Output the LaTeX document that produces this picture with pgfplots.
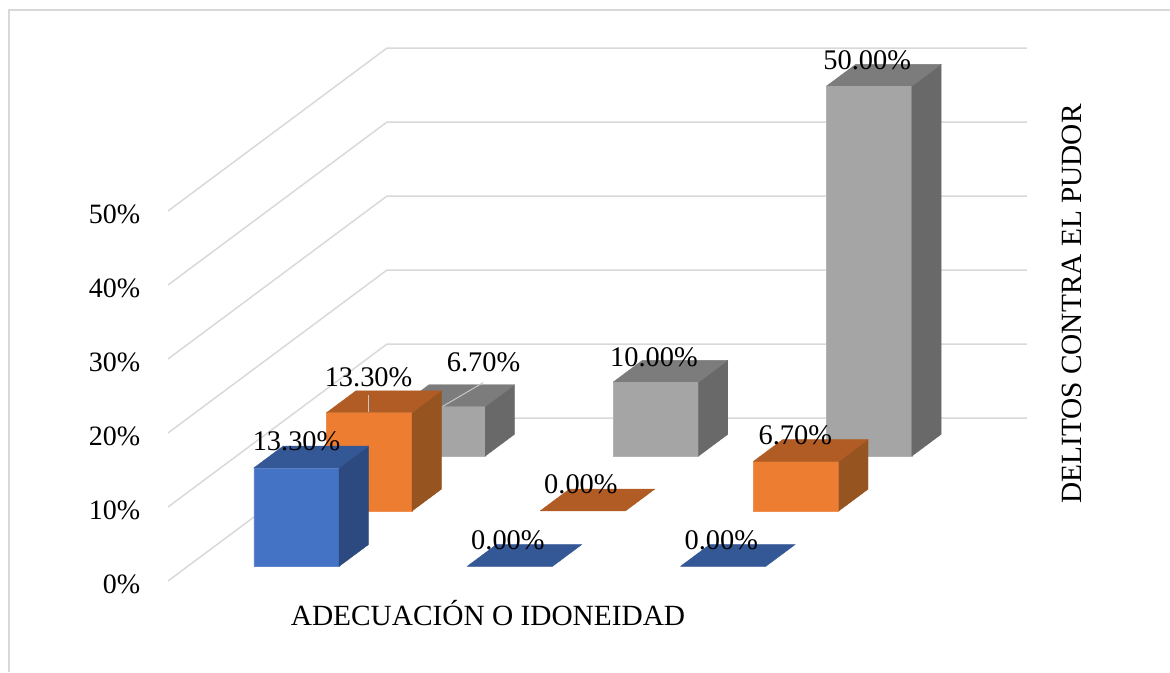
\documentclass[border=0pt]{standalone}
\usepackage{pgfplots}
\pgfplotsset{compat=1.18}
\usepackage{fontspec}
\setmainfont{Liberation Serif}
\definecolor{gridc}{HTML}{D9D9D9}
\definecolor{blueF}{HTML}{4472C4}
\definecolor{blueS}{HTML}{2C4A80}
\definecolor{blueT}{HTML}{345795}
\definecolor{orangeF}{HTML}{ED7D31}
\definecolor{orangeS}{HTML}{955420}
\definecolor{orangeT}{HTML}{B05C24}
\definecolor{grayF}{HTML}{A5A5A5}
\definecolor{grayS}{HTML}{696969}
\definecolor{grayT}{HTML}{7C7C7C}
\newlength{\px}
\setlength{\px}{0.75pt}
% one bar: x, depth, value, colour prefix
\newcommand{\barbox}[4]{%
  \pgfmathsetmacro{\xa}{#1}\pgfmathsetmacro{\xb}{#1+0.4}%
  \pgfmathsetmacro{\ya}{#2}\pgfmathsetmacro{\yb}{#2+0.4}%
  \ifdim #3pt>0pt
  \addplot3[fill=#4F, draw=#4F!85!white, line width=0.5pt] coordinates {(\xa,\ya,0)(\xb,\ya,0)(\xb,\ya,#3)(\xa,\ya,#3)(\xa,\ya,0)};
  \addplot3[fill=#4S, draw=#4S, line width=0.3pt] coordinates {(\xb,\ya,0)(\xb,\yb,0)(\xb,\yb,#3)(\xb,\ya,#3)(\xb,\ya,0)};
  \fi
  \addplot3[fill=#4T, draw=#4T, line width=0.3pt] coordinates {(\xa,\ya,#3)(\xb,\ya,#3)(\xb,\yb,#3)(\xa,\yb,#3)(\xa,\ya,#3)};
}
% data label: x, depth, value, text, shift in px
\newcommand{\barlabel}[6]{%
  \node[font=\fontsize{21.3}{24}\selectfont, inner sep=0pt, xshift=#5\px, yshift=#6\px] at (axis cs:#1+0.2,#2,#3) {#4};
}
\begin{document}
\begin{tikzpicture}
\path[use as bounding box] (0,0) rectangle (1170\px,672\px);
\draw[gridc, line width=1.5\px] (9\px,0) -- (9\px,662\px) -- (1170\px,662\px);
\begin{axis}[
  at={(168\px,91\px)}, anchor=origin,
  x={(213.33\px,0)}, y={(73\px,54.33\px)}, z={(0,7.4\px)},
  xmin=0, xmax=3, ymin=0, ymax=3, zmin=0, zmax=50,
  xtick=\empty, ytick=\empty,
  ztick={0,10,20,30,40,50},
  zticklabel={\pgfmathprintnumber{\tick}\%},
  /pgf/number format/assume math mode=true,
  tick label style={font=\fontsize{21}{24}\selectfont},
  z tick label style={anchor=east, xshift=-23\px, yshift=-3\px},
  major tick length=0pt,
  axis line style={draw=none},
  clip=false,
]
% walls
\addplot3[gridc, line width=1.5\px] coordinates {(0,0,0)(0,3,0)(3,3,0)};
\addplot3[gridc, line width=1.5\px] coordinates {(0,0,10)(0,3,10)(3,3,10)};
\addplot3[gridc, line width=1.5\px] coordinates {(0,0,20)(0,3,20)(3,3,20)};
\addplot3[gridc, line width=1.5\px] coordinates {(0,0,30)(0,3,30)(3,3,30)};
\addplot3[gridc, line width=1.5\px] coordinates {(0,0,40)(0,3,40)(3,3,40)};
\addplot3[gridc, line width=1.5\px] coordinates {(0,0,50)(0,3,50)(3,3,50)};
% back row
\barbox{0.3}{2.3}{6.7}{gray}
\barbox{1.3}{2.3}{10}{gray}
\barbox{2.3}{2.3}{50}{gray}
% middle row
\barbox{0.303}{1.29}{13.3}{orange}
\barbox{1.303}{1.29}{0}{orange}
\barbox{2.303}{1.29}{6.7}{orange}
% front row
\barbox{0.31}{0.27}{13.3}{blue}
\barbox{1.31}{0.27}{0}{blue}
\barbox{2.31}{0.27}{0}{blue}
% leader lines
\addplot3[color=gridc!80!gray, line width=1\px] coordinates {(0.5,1.29,13.3)(0.5,1.29,15.7)};
\addplot3[color=gridc!80!gray, line width=1\px] coordinates {(0.5,2.3,6.7)(0.54,2.74,6.7)};
% labels
\barlabel{0.3}{2.3}{6.7}{6.70\%}{41}{44}
\barlabel{1.3}{2.3}{10}{10.00\%}{-2}{25}
\barlabel{2.3}{2.3}{50}{50.00\%}{-2}{26}
\barlabel{0.3}{1.3}{13.3}{13.30\%}{-1}{35}
\barlabel{1.3}{1.3}{0}{0.00\%}{-2}{26}
\barlabel{2.3}{1.3}{6.7}{6.70\%}{-1}{26}
\barlabel{0.3}{0.3}{13.3}{13.30\%}{0}{25}
\barlabel{1.3}{0.3}{0}{0.00\%}{-2}{24}
\barlabel{2.3}{0.3}{0}{0.00\%}{-2}{24}
\end{axis}
\node[font=\fontsize{22}{26}\selectfont, inner sep=0pt] at (488\px,59\px) {ADECUACIÓN O IDONEIDAD};
\node[font=\fontsize{22}{26}\selectfont, inner sep=0pt, rotate=90] at (1072\px,368\px) {DELITOS CONTRA EL PUDOR};
\end{tikzpicture}
\end{document}
